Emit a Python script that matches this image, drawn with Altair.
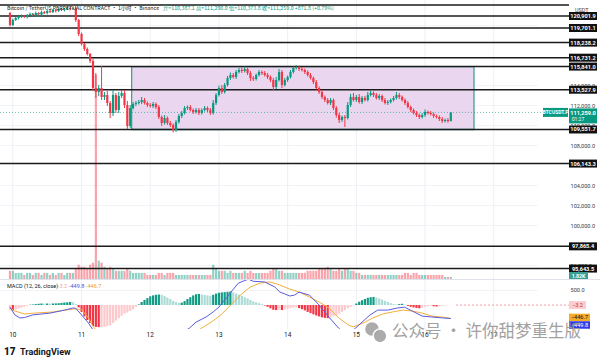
import altair as alt
import numpy as np
import pandas as pd

UP = "#089981"
DN = "#f23645"
FONT = "Roboto"
CJK = "Noto Sans CJK SC"

# ---------------- data (hour index h: 0 = 10th 00:00) ----------------
first_open = 121200
closes = [
    120000, 120500, 120700, 120800, 120900, 120800, 121000, 121100, 121000, 121200,
    121100, 121300, 121200, 121400, 121300, 121500, 121400, 121600, 121500, 121600,
    121700, 121600, 121650, 120500, 119100, 118100, 117600, 117100, 116400, 113700,
    113300, 113700, 112800, 113000, 112200, 111200, 113000, 111500, 112900, 113200,
    112000, 109900, 111700, 112100, 112200, 112300, 112500, 112200, 112000, 111900,
    112100, 111800, 110800, 110200, 110700, 110200, 110000, 109500, 110300, 110900,
    111200, 111700, 111800, 111500, 111300, 111500, 111200, 111500, 111700, 111500,
    111200, 112200, 113000, 113700, 113300, 114000, 114700, 115000, 114800, 115300,
    115500, 115400, 115600, 115200, 114700, 114600, 115000, 115300, 115200, 115000,
    114800, 114500, 113800, 114500, 115300, 114000, 114500, 114800, 115300, 115700,
    115800, 115600, 115500, 115300, 115000, 114700, 114300, 113700, 113300, 112800,
    112500, 112200, 112500, 111700, 111000, 110500, 110800, 110700, 112000, 112800,
    112500, 112800, 112300, 112700, 112500, 113000, 113200, 113000, 112700, 112900,
    112500, 112200, 112300, 112500, 112700, 113000, 112800, 112500, 112200, 111800,
    111500, 111200, 111000, 110800, 111000, 111300, 111200, 111100, 110900, 110800,
    110600, 110400, 110500, 110387.1, 111259.0,
]
wick_up = [
    100, 150, 100, 100, 150, 100, 100, 150, 100, 150,
    100, 150, 100, 100, 150, 100, 100, 150, 100, 100,
    150, 100, 150, 200, 100, 150, 100, 150, 100, 200,
    1500, 300, 2200, 300, 400, 200, 500, 200, 400, 300,
    300, 400, 300, 200, 200, 200, 300, 200, 150, 200,
    200, 150, 200, 150, 300, 150, 200, 150, 200, 200,
    200, 200, 150, 200, 150, 200, 200, 150, 200, 150,
    200, 300, 200, 250, 300, 200, 200, 250, 200, 200,
    200, 250, 250, 150, 200, 200, 150, 200, 150, 200,
    200, 150, 200, 300, 300, 200, 200, 150, 200, 150,
    200, 150, 200, 150, 150, 200, 150, 200, 150, 200,
    150, 200, 200, 150, 200, 200, 150, 200, 300, 300,
    400, 200, 300, 200, 200, 300, 200, 150, 200, 200,
    150, 200, 200, 150, 200, 300, 200, 150, 150, 200,
    150, 150, 200, 150, 200, 250, 150, 200, 150, 150,
    150, 200, 150, 200, 31,
]
wick_dn = [
    150, 100, 100, 150, 100, 100, 150, 100, 100, 100,
    150, 100, 100, 150, 100, 100, 150, 100, 100, 150,
    100, 150, 100, 200, 200, 150, 200, 150, 200, 300,
    600, 400, 300, 300, 300, 500, 300, 300, 300, 200,
    300, 300, 200, 150, 200, 150, 200, 150, 200, 150,
    200, 200, 200, 300, 150, 200, 200, 250, 200, 150,
    200, 150, 200, 150, 200, 150, 200, 150, 150, 200,
    200, 150, 200, 150, 200, 150, 150, 200, 150, 200,
    150, 200, 150, 200, 300, 200, 150, 150, 200, 150,
    200, 200, 300, 200, 150, 300, 150, 200, 150, 150,
    150, 200, 150, 200, 150, 150, 200, 150, 200, 200,
    200, 150, 200, 200, 250, 300, 200, 900, 150, 200,
    150, 200, 150, 200, 150, 150, 150, 200, 150, 200,
    200, 150, 200, 150, 150, 150, 200, 150, 200, 150,
    200, 150, 200, 200, 150, 200, 150, 150, 200, 150,
    200, 200, 150, 150, 13.3,
]
volumes = [
    4, 4, 3, 3, 3, 2, 3, 3, 2, 3,
    3, 2, 3, 3, 2, 3, 2, 3, 3, 2,
    3, 3, 3, 5, 7, 6, 6, 5, 7, 8,
    100, 9, 8, 6, 5, 6, 5, 4, 4, 4,
    4, 5, 4, 3, 3, 3, 3, 3, 2, 2,
    2, 2, 3, 3, 2, 3, 3, 3, 2, 2,
    2, 2, 2, 2, 2, 2, 2, 2, 2, 2,
    2, 7, 5, 4, 4, 4, 3, 4, 3, 3,
    3, 3, 4, 3, 4, 3, 3, 3, 3, 3,
    3, 4, 5, 5, 4, 4, 3, 3, 3, 3,
    3, 3, 3, 3, 4, 4, 4, 4, 5, 5,
    5, 6, 5, 4, 4, 5, 4, 5, 5, 4,
    4, 3, 3, 2, 2, 2, 2, 2, 2, 2,
    2, 2, 2, 2, 2, 2, 2, 2, 3, 3,
    2, 3, 3, 2, 2, 2, 2, 2, 2, 2,
    2, 2, 1, 1, 1,
]
macd_hist = [
    -170, -180, -150, -120, -90, -60, -30, 10, 20, 30,
    40, 50, 45, 50, 45, 50, 55, 60, 70, 80,
    90, 100, 90, 30, -80, -230, -380, -500, -600, -700,
    -730, -740, -740, -730, -700, -680, -600, -520, -440, -360,
    -290, -250, -200, -140, -60, 20, 100, 170, 230, 290,
    320, 340, 350, 340, 300, 250, 200, 140, 100, 70,
    80, 130, 200, 260, 320, 360, 370, 350, 330, 320,
    310, 340, 380, 410, 420, 430, 440, 450, 420, 380,
    340, 300, 260, 220, 170, 120, 90, 60, 30, -20,
    -60, -110, -160, -170, -150, -170, -150, -130, -110, -90,
    -80, -100, -140, -180, -230, -270, -310, -350, -380, -410,
    -430, -440, -420, -380, -340, -290, -230, -170, -110, -60,
    -10, 50, 110, 160, 200, 240, 260, 270, 250, 220,
    180, 140, 100, 60, 30, 20, 30, 40, 10, -30,
    -60, -80, -100, -110, -90, -60, -40, -30, -40, -50,
    -45, -30, -20, -10, -3.2,
]
macd_h = [-1, 0.7, 2.4, 4, 7, 13, 18, 21, 22, 24,
          26.4, 28, 29, 31, 35, 39, 43, 48, 53, 57,
          61.7, 64, 67.5, 70, 72, 73.4, 75.4, 76.8, 78.8, 80.6,
          82.3, 84, 88, 91.5, 93.3, 95, 96.7, 98.4, 100, 103.6,
          107, 110.4, 113.8, 116, 118, 119.7, 124.8, 127.5, 131, 134.4,
          136.8, 139.5, 143, 146.4, 150, 153]
macd_v = [-70, -330, -430, -420, -330, -270, -170, -100, -110, -330,
          -600, -830, -1300, -1650, -2000, -2050, -1900, -1510, -1300, -1050,
          -770, -570, -400, -230, -70, 100, 330, 500, 730, 800,
          860, 790, 770, 600, 430, 370, 300, 330, 430, 330,
          0, -400, -770, -950, -900, -770, -330, -170, -170, -100,
          -70, -200, -370, -400, -430, -449.8]
sig_h = [-1, 0.7, 4.1, 7.5, 14.4, 21.3, 24, 26.4, 28.1, 29,
         31, 35, 39, 43, 48, 53, 57, 62, 65.8, 69.3,
         72.7, 76.1, 79.5, 82.9, 86.4, 89.8, 93.2, 96.7, 100.1, 103.5,
         107, 110.4, 113.8, 117.3, 119, 122.4, 125.8, 129.2, 132.7, 136.1,
         139.5, 143, 146.4, 149.8, 153]
sig_v = [-100, -200, -300, -270, -230, -130, -150, -430, -730, -830,
         -1000, -1300, -1600, -1750, -1800, -1650, -1400, -1000, -780, -570,
         -330, 0, 330, 600, 730, 770, 670, 530, 430, 270,
         100, -100, -430, -670, -730, -600, -430, -300, -230, -170,
         -200, -270, -370, -400, -446.7]

levels = [120901.9, 119701.1, 118238.2, 116731.2, 115841.0, 113527.9,
          109551.7, 106143.3, 97865.4, 95643.5]
top_level = [122000.0]
zone_h = [41.5, 161.1]
zone_p = [109551.7, 115841.0]
last_price = 111259.0
price_ticks = [96000, 100000, 102000, 104000, 108000, 110000, 112000, 114000, 120000]
day_ticks = [0, 24, 48, 72, 96, 120, 144, 168]
day_labels = ["10", "11", "12", "13", "14", "15", "16", "17"]
macd_ticks = [500]

# ---------------- frames ----------------
hours = list(range(-1, 154))
opens = [first_open] + closes[:-1]
df = pd.DataFrame({"h": hours, "o": opens, "c": closes})
df["hi"] = np.maximum(df.o, df.c) + np.array(wick_up)
df["lo"] = np.minimum(df.o, df.c) - np.array(wick_dn)
df["dir"] = np.where(df.c >= df.o, "up", "down")
df["v"] = volumes
df["m"] = macd_hist
prev = df.m.shift(1).fillna(df.m)
df["mcol"] = np.select(
    [(df.m >= 0) & (df.m >= prev), df.m >= 0, df.m < prev],
    ["g1", "g2", "r1"], "r2")

macd_df = pd.DataFrame({"h": macd_h, "s": macd_v})
sig_df = pd.DataFrame({"h": sig_h, "s": sig_v})
lv_df = pd.DataFrame({"p": levels})
top_df = pd.DataFrame({"p": top_level})
zone_df = pd.DataFrame({"h0": [zone_h[0]], "h1": [zone_h[1]],
                        "p0": [zone_p[0]], "p1": [zone_p[1]]})
last_df = pd.DataFrame({"p": [last_price]})
day_df = pd.DataFrame({"h": day_ticks, "lbl": day_labels})
one = pd.DataFrame({"a": [0]})

# ---------------- scales ----------------
PX_H = 70 / 24.0
X0 = -8 / PX_H
X1 = (537 - 8) / PX_H
XS = alt.Scale(domain=[X0, X1], nice=False, zero=False)
PS = alt.Scale(domain=[95000, 122500], range=[275, 0], nice=False, zero=False)
VS = alt.Scale(domain=[0, 100], range=[279, 75], nice=False, zero=False)
MS = alt.Scale(domain=[-800, 833.3], range=[329, 280], nice=False, zero=False)

dircolor = alt.Color("dir:N", scale=alt.Scale(domain=["up", "down"], range=[UP, DN]), legend=None)


def X(field="h"):
    return alt.X(f"{field}:Q", scale=XS, axis=None)


def P(field="p", axis=None):
    return alt.Y(f"{field}:Q", scale=PS, axis=axis)


def M(field="m", axis=None):
    return alt.Y(f"{field}:Q", scale=MS, axis=axis)


paxis = alt.Axis(orient="right", values=price_ticks, format=",.1f", labelPadding=33,
                 domain=False, ticks=False, grid=True, gridColor="#f1f3f7",
                 labelFontSize=5.6, labelColor="#3a3d45", labelFont=FONT, title=None,
                 labelOverlap=False, labelFlush=False)
maxis = alt.Axis(orient="right", values=macd_ticks, format=",.1f", labelPadding=33,
                 domain=False, ticks=False, grid=True, gridColor="#f1f3f7",
                 labelFontSize=5.6, labelColor="#3a3d45", labelFont=FONT, title=None,
                 labelOverlap=False, labelFlush=False)


def label(txt, x, y, size, color, align="left", weight="normal", font=FONT, opacity=1):
    return alt.Chart(one).mark_text(text=txt, align=align, baseline="middle", fontSize=size,
                                    color=color, fontWeight=weight, font=font,
                                    opacity=opacity).encode(x=alt.value(x), y=alt.value(y))


# ---------------- layers ----------------
vgrid = alt.Chart(day_df).mark_rule(color="#eceff5", strokeWidth=1).encode(
    x=X(), y=alt.value(0), y2=alt.value(329))
day_txt = alt.Chart(day_df).mark_text(fontSize=6.5, font=FONT, color="#131722").encode(
    x=X(), y=alt.value(335), text="lbl:N")

zone = alt.Chart(zone_df).mark_rect(fill="#ead6ef", stroke="#3fa39a", strokeWidth=1.3).encode(
    x=X("h0"), x2="h1:Q", y=P("p0"), y2="p1:Q")

vol = alt.Chart(df).mark_bar(width=2.2, opacity=0.45).encode(
    x=X(), y=alt.Y("v:Q", scale=VS, axis=None), y2=alt.datum(0), color=dircolor)

lv_lines = alt.Chart(lv_df).mark_rule(color="#1b1b1b", strokeWidth=1.5).encode(
    x=alt.value(0), x2=alt.value(569), y=P())
top_line = alt.Chart(top_df).mark_rule(color="#1b1b1b", strokeWidth=1.5).encode(
    x=alt.value(0), x2=alt.value(569), y=P())

cur_line = alt.Chart(last_df).mark_rule(color=UP, strokeDash=[1, 2], opacity=0.6).encode(
    x=alt.value(0), x2=alt.value(543), y=P())

wicks = alt.Chart(df).mark_rule(strokeWidth=1).encode(
    x=X(), y=P("lo"), y2="hi:Q", color=dircolor)
bodies = alt.Chart(df).mark_bar(width=2.2).encode(
    x=X(), y=P("o", paxis), y2="c:Q", color=dircolor)

hist = alt.Chart(df).mark_bar(width=2.2).encode(
    x=X(), y=M("m", maxis), y2=alt.datum(0),
    color=alt.Color("mcol:N", scale=alt.Scale(domain=["g1", "g2", "r1", "r2"],
                                              range=["#129c86", "#acdcd5", "#f23645", "#fcc9cc"]),
                    legend=None))
sig_line = alt.Chart(sig_df).mark_line(color="#f5ae3c", strokeWidth=1, clip=True).encode(
    x=X(), y=M("s"))
macd_line = alt.Chart(macd_df).mark_line(color="#5a5ce0", strokeWidth=1, clip=True).encode(
    x=X(), y=M("s"))
hist_last = alt.Chart(pd.DataFrame({"m": [macd_hist[-1]]})).mark_rule(
    color="#f4a1a8", strokeDash=[2, 2]).encode(x=alt.value(456), x2=alt.value(570), y=M())

sep = alt.Chart(one).mark_rule(color="#dfe2ea", strokeWidth=1).encode(
    x=alt.value(0), x2=alt.value(600), y=alt.value(279.5))

lv_box = alt.Chart(lv_df).mark_rule(color="#111111", strokeWidth=8).encode(
    x=alt.value(569), x2=alt.value(597), y=P())
lv_txt = alt.Chart(lv_df).mark_text(color="white", fontSize=5.6, font=FONT, fontWeight="bold").encode(
    x=alt.value(583), y=P(), text=alt.Text("p:Q", format=",.1f"))

sym_box = alt.Chart(last_df).mark_rule(color=UP, strokeWidth=9).encode(
    x=alt.value(543), x2=alt.value(568), y=P())
sym_txt = alt.Chart(last_df).mark_text(text="BTCUSDT.P", color="white", fontSize=5, font=FONT,
                                       fontWeight="bold").encode(x=alt.value(555.5), y=P())
px_box = alt.Chart(last_df).mark_rule(color=UP, strokeWidth=15, yOffset=3.5).encode(
    x=alt.value(569), x2=alt.value(597), y=P())
px_txt = alt.Chart(last_df).mark_text(color="white", fontSize=5.6, font=FONT, fontWeight="bold",
                                      yOffset=0.5).encode(
    x=alt.value(583), y=P(), text=alt.Text("p:Q", format=",.1f"))
cd_txt = alt.Chart(last_df).mark_text(text="01:27", color="white", fontSize=5, font=FONT,
                                      yOffset=7).encode(x=alt.value(578), y=P())

mb = pd.DataFrame({"m": [macd_hist[-1]], "a": [-446.7], "b": [-449.8]})
h_box = alt.Chart(mb).mark_rule(color="#fccdd0", strokeWidth=8).encode(
    x=alt.value(569), x2=alt.value(586), y=M())
h_txt = alt.Chart(mb).mark_text(color="#c62d38", fontSize=5.6, font=FONT).encode(
    x=alt.value(577.5), y=M(), text=alt.Text("m:Q", format=".1f"))
s_box = alt.Chart(mb).mark_rule(color="#f7a928", strokeWidth=7.5, yOffset=-1).encode(
    x=alt.value(569), x2=alt.value(590), y=M("a"))
s_txt = alt.Chart(mb).mark_text(color="#131722", fontSize=5.6, font=FONT, yOffset=-1).encode(
    x=alt.value(579.5), y=M("a"), text=alt.Text("a:Q", format=".1f"))
m_box = alt.Chart(mb).mark_rule(color="#2d3ee8", strokeWidth=7.5, yOffset=6.5).encode(
    x=alt.value(569), x2=alt.value(590), y=M("b"))
m_txt = alt.Chart(mb).mark_text(color="white", fontSize=5.6, font=FONT, yOffset=6.5).encode(
    x=alt.value(579.5), y=M("b"), text=alt.Text("b:Q", format=".1f"))

vol_box = alt.Chart(one).mark_rule(color="#3a9f92", strokeWidth=7).encode(
    x=alt.value(569), x2=alt.value(588), y=alt.value(275.5))
vol_txt = label("1.82K", 578.5, 275.5, 5.2, "white", align="center", weight="bold")

header1 = label("Bitcoin / TetherUS PERPETUAL CONTRACT · 1小时 · Binance", 7, 8, 5.3, "#131722", font=CJK)
header2 = label("开=110,387.1  高=111,290.0  低=110,373.8  收=111,259.0  +871.8 (+0.79%)",
                163, 8, 5.3, UP, font=CJK)
header3 = label("1.82K", 31, 15, 5.0, UP)
usdt = label("USDT", 575, 10, 5.4, "#3a3d45")

macd_leg = label("MACD (12, 26, close)", 7, 286, 5.5, "#131722")
macd_leg1 = label("-3.2", 58, 286, 5.5, "#f4a1a8")
macd_leg2 = label("-449.8", 69, 286, 5.5, "#4a4fe0")
macd_leg3 = label("-446.7", 86, 286, 5.5, "#e9a030")

wm_icon1 = alt.Chart(one).mark_point(filled=True, shape="circle", size=230, fill="#a3a3a3",
                                     stroke="white", strokeWidth=1.5, opacity=0.9).encode(
    x=alt.value(372), y=alt.value(329))
wm_icon2 = alt.Chart(one).mark_point(filled=True, shape="circle", size=190, fill="#a3a3a3",
                                     stroke="white", strokeWidth=1.5, opacity=0.9).encode(
    x=alt.value(380), y=alt.value(336))
wm_text = label("公众号 · 许你甜梦重生版", 392, 332, 16.5, "#9c9c9c", font=CJK, opacity=0.95)

tv_logo = label("17", 4, 352, 10, "#131722", weight=900, font=FONT)
tv_text = label("TradingView", 20, 352, 9, "#131722", weight="bold", font=FONT)

chart = alt.layer(
    vgrid, zone, vol, lv_lines, top_line, cur_line, wicks, bodies,
    hist, sig_line, macd_line, hist_last, sep, day_txt,
    lv_box, lv_txt, sym_box, sym_txt, px_box, px_txt, cd_txt,
    h_box, h_txt, s_box, s_txt, m_box, m_txt, vol_box, vol_txt,
    header1, header2, header3, usdt, macd_leg, macd_leg1, macd_leg2, macd_leg3,
    wm_icon1, wm_icon2, wm_text, tv_logo, tv_text,
).resolve_scale(y="independent", color="independent").resolve_axis(y="independent").properties(
    width=537, height=329,
    autosize=alt.AutoSizeParams(type="none"),
    padding={"left": 0, "top": 0, "right": 63, "bottom": 28},
    background="white",
).configure_view(stroke=None)

chart.save("out.html", embed_options={"renderer": "svg", "actions": False})
